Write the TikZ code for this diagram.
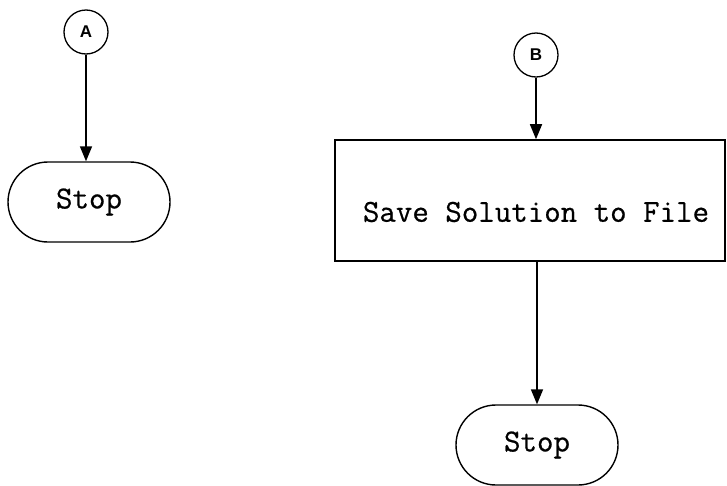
\documentclass[tikz,border=0pt]{standalone}
\usepackage{fontspec}
\newfontfamily\labfont{Liberation Sans}
\newfontfamily\twfont[FakeBold=0.6]{Latin Modern Mono}
\usetikzlibrary{arrows.meta,shapes.misc}
\begin{document}
\begin{tikzpicture}[x=1pt,y=-1pt,
  conn/.style={circle,draw,line width=1.3pt,minimum size=44pt,inner sep=0pt,font=\labfont\bfseries\fontsize{17}{19}\selectfont},
  term/.style={rounded rectangle,draw,line width=1.4pt,minimum width=162pt,minimum height=80pt,inner sep=0pt,font=\twfont\fontsize{32}{34}\selectfont},
  procbox/.style={rectangle,draw,line width=1.6pt,minimum width=390pt,minimum height=121pt,inner sep=0pt},
  boxtext/.style={inner sep=0pt,font=\twfont\fontsize{32}{34}\selectfont},
  flow/.style={line width=1.6pt,-{Triangle[width=12pt,length=15pt]}}]
\useasboundingbox (0,0) rectangle (727,485);
% left column
\node[conn] (A) at (86,32) {A};
\node[term] (stopA) at (89,202) {Stop};
\draw[flow] (A) -- (A |- stopA.north);
% right column
\node[conn] (B) at (536,55) {B};
\node[procbox] (save) at (530,200.5) {};
\node[boxtext] (savetext) at (536,212) {Save Solution to File};
\node[term] (stopB) at (537,445) {Stop};
\draw[flow] (B) -- (B |- save.north);
\draw[flow] (save.south -| stopB) -- (stopB.north);
\end{tikzpicture}
\end{document}
